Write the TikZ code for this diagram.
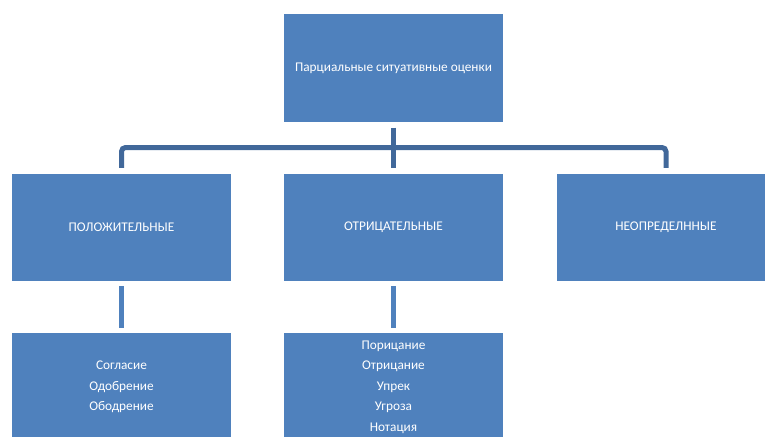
\documentclass[tikz,border=0pt]{standalone}
\usepackage{fontspec}
\setmainfont{Carlito}
\usepackage{xcolor}
\usepackage{tikz}
\usetikzlibrary{positioning}

\definecolor{boxblue}{HTML}{4F81BD}
\definecolor{barblue}{HTML}{41689A}

\tikzset{
    box/.style={
        fill=boxblue,
        text=white,
        minimum width=219pt,
        minimum height=107pt,
        inner sep=0pt,
        font=\fontsize{13.3}{20.5}\selectfont,
        align=center
    },
    bar/.style={
        draw=barblue,
        line width=5pt
    },
    stub/.style={
        draw=boxblue,
        line width=5pt
    }
}

\begin{document}
\begin{tikzpicture}[x=1pt,y=-1pt]
                \useasboundingbox (0,0) rectangle (765,436);

                % top level
                \node[box] (root) at (393.5,68) {Парциальные ситуативные оценки};

                % second level
                \node[box] (pos) at (121.5,227.5) {ПОЛОЖИТЕЛЬНЫЕ};
                \node[box] (neg) at (393.5,227.5) {ОТРИЦАТЕЛЬНЫЕ};
                \node[box] (neu) at (666,227.5) {НЕОПРЕДЕЛННЫЕ};

                % third level
                \node[box, minimum height=108pt] (posl) at (121.5,387) {Согласие\\Одобрение\\Ободрение};
                \node[box, minimum height=108pt] (negl) at (393.5,387) {Порицание\\Отрицание\\Упрек\\Угроза\\Нотация};

                % connectors
                \coordinate (bus) at (393.5,147.5);
                \draw[bar] ([yshift=-6pt]root.south) -- ([yshift=6pt]neg.north);
                \draw[bar, rounded corners=4pt] ([yshift=6pt]pos.north) -- (pos.north |- bus) -- (neu.north |- bus) -- ([yshift=6pt]neu.north);

                \draw[stub] ([yshift=-5pt]pos.south) -- ([yshift=5pt]posl.north);
                \draw[stub] ([yshift=-5pt]neg.south) -- ([yshift=5pt]negl.north);
\end{tikzpicture}
\end{document}
